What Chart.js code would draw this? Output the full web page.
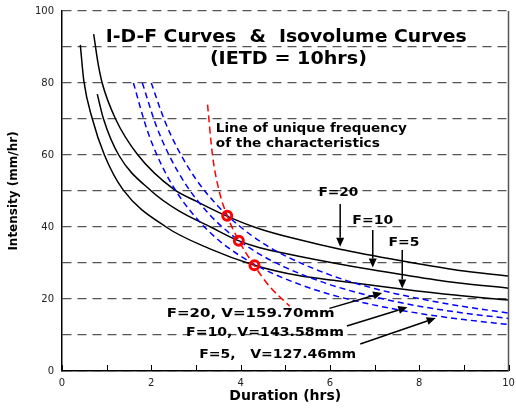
<!DOCTYPE html>
<html>
<head>
<meta charset="utf-8">
<script src="https://cdn.jsdelivr.net/npm/chart.js@4.4.0/dist/chart.umd.min.js"></script>
<style>
  body { margin: 0; background: #fff; }
</style>
</head>
<body>
<canvas id="idfChart" width="516" height="408"></canvas>
<script>
// I-D-F curves (duration hrs / intensity mm/hr)
const durF20 = [0.71, 0.8, 0.9, 1.2, 1.7, 2.5, 3.0, 3.68, 4.4, 5.3, 6.23, 7.6, 8.86, 10];
const intF20 = [93.6, 86, 80, 70, 60, 50.5, 47.2, 43.1, 39.6, 36.5, 33.8, 30.6, 28.0, 26.4];
const durF10 = [0.79, 0.93, 1.27, 2.0, 2.6, 3.33, 3.95, 4.41, 5.3, 6.95, 7.6, 8.8, 10];
const intF10 = [76.9, 70, 60, 50, 44.6, 40, 36.2, 34.3, 31.9, 28.1, 26.8, 24.6, 23.0];
const durF5 = [0.41, 0.49, 0.68, 0.95, 1.37, 2.33, 3.3, 4.31, 5.3, 6.2, 7.6, 8.8, 10];
const intF5 = [90.6, 80.5, 70, 60, 50.3, 40, 34, 29.4, 26.5, 25.0, 22.8, 21.1, 19.7];

// isovolume curves
const durV160 = [2.0, 2.3, 2.6, 3.0, 3.5, 4.0, 4.5, 5, 6, 7, 8, 9, 10];
const intV160 = [80, 69.5, 61.5, 53.3, 45.7, 40, 35.5, 32, 26.7, 22.9, 20.1, 17.9, 16.1];
const durV144 = [1.8, 2.1, 2.4, 2.8, 3.3, 3.8, 4.3, 5, 6, 7, 8, 9, 10];
const intV144 = [80, 68.5, 59.9, 51.3, 43.5, 37.8, 33.4, 28.8, 24, 20.6, 18, 16.1, 14.6];
const durV127 = [1.6, 1.9, 2.2, 2.6, 3.1, 3.6, 4.3, 5, 6, 7, 8, 9, 10];
const intV127 = [80, 67.2, 58, 49.1, 41.2, 35.4, 29.7, 25.6, 21.3, 18.3, 16, 14.3, 12.9];

// line of unique frequency + intersection points
const durUnique = [3.26, 3.37, 3.52, 3.70, 3.96, 4.30, 4.65, 5.1];
const intUnique = [74, 60, 50, 43.1, 36.2, 29.4, 23.5, 18];
const durCross = [3.70, 3.96, 4.31];
const intCross = [43.1, 36.2, 29.4];

const xTickLabels = [0, 2, 4, 6, 8, 10];
const yTickLabels = [0, 20, 40, 60, 80, 100];

const fontFamily = '"DejaVu Sans", Verdana, sans-serif';
Chart.defaults.font.family = fontFamily;

const pts = (xs, ys) => xs.map((x, i) => ({ x: x, y: ys[i] }));

function curve(xs, ys, color, dash) {
  return {
    data: pts(xs, ys),
    showLine: true,
    borderColor: color,
    borderWidth: 1.5,
    borderDash: dash,
    pointRadius: 0,
    cubicInterpolationMode: 'monotone',
    fill: false
  };
}

// text + arrows inside the plot, in data units
const notes = [
  { text: 'I-D-F Curves  &  Isovolume Curves', x: 5.02, y: 92.5, size: 17, width: 361, align: 'center' },
  { text: '(IETD = 10hrs)', x: 5.07, y: 86.5, size: 17, width: 157, align: 'center' },
  { text: 'Line of unique frequency', x: 3.445, y: 67.2, size: 12, width: 191, align: 'left' },
  { text: 'of the characteristics', x: 3.445, y: 63.05, size: 12, width: 164, align: 'left' },
  { text: 'F=20', x: 6.19, y: 49.4, size: 12, width: 40, align: 'center' },
  { text: 'F=10', x: 6.96, y: 41.75, size: 12, width: 41, align: 'center' },
  { text: 'F=5', x: 7.66, y: 35.6, size: 12, width: 31, align: 'center' },
  { text: 'F=20, V=159.70mm', x: 2.345, y: 15.8, size: 12.5, width: 168, align: 'left' },
  { text: 'F=10, V=143.58mm', x: 2.777, y: 10.5, size: 12.5, width: 158, align: 'left' },
  { text: 'F=5,   V=127.46mm', x: 3.073, y: 4.45, size: 12.5, width: 157, align: 'left' }
];
const arrows = [
  [6.23, 46.4, 6.23, 34.5],
  [6.96, 39.2, 6.96, 28.75],
  [7.62, 33.6, 7.62, 22.9],
  [5.99, 17.4, 7.17, 21.7],
  [6.38, 12.5, 7.735, 17.7],
  [6.68, 7.5, 8.37, 14.7]
];

function drawArrow(ctx, x1, y1, x2, y2) {
  const a = Math.atan2(y2 - y1, x2 - x1);
  const len = 9, half = 4;
  const c = Math.cos(a), s = Math.sin(a);
  ctx.beginPath();
  ctx.moveTo(x1, y1);
  ctx.lineTo(x2 - c * len, y2 - s * len);
  ctx.stroke();
  ctx.beginPath();
  ctx.moveTo(x2, y2);
  ctx.lineTo(x2 - c * len + s * half, y2 - s * len - c * half);
  ctx.lineTo(x2 - c * len - s * half, y2 - s * len + c * half);
  ctx.closePath();
  ctx.fill();
}

const extrasPlugin = {
  id: 'extras',
  afterDatasetsDraw(chart) {
    const ctx = chart.ctx;
    const sx = chart.scales.x, sy = chart.scales.y;
    const area = chart.chartArea;

    // right frame line
    ctx.save();
    ctx.strokeStyle = '#555';
    ctx.lineWidth = 1.5;
    ctx.beginPath();
    ctx.moveTo(area.right, area.top);
    ctx.lineTo(area.right, area.bottom);
    ctx.stroke();

    // x tick marks pointing inward
    ctx.strokeStyle = '#000';
    ctx.lineWidth = 1;
    sx.ticks.forEach(t => {
      const x = Math.round(sx.getPixelForValue(t.value)) + 0.5;
      ctx.beginPath();
      ctx.moveTo(x, area.bottom);
      ctx.lineTo(x, area.bottom - 6);
      ctx.stroke();
    });

    // arrows
    ctx.fillStyle = '#000';
    ctx.lineWidth = 1.5;
    arrows.forEach(a => {
      drawArrow(ctx, sx.getPixelForValue(a[0]), sy.getPixelForValue(a[1]),
                sx.getPixelForValue(a[2]), sy.getPixelForValue(a[3]));
    });

    // text
    notes.forEach(n => {
      ctx.save();
      ctx.font = 'bold ' + n.size + 'px ' + fontFamily;
      const m = ctx.measureText(n.text).width;
      const k = n.width / m;
      const px = sx.getPixelForValue(n.x), py = sy.getPixelForValue(n.y);
      const left = n.align === 'center' ? px - n.width / 2 : px;
      ctx.translate(left, py);
      ctx.scale(k, 1);
      ctx.textAlign = 'left';
      ctx.textBaseline = 'middle';
      ctx.fillStyle = '#000';
      ctx.fillText(n.text, 0, 0);
      ctx.restore();
    });
    ctx.restore();
  }
};

const ctx = document.getElementById('idfChart').getContext('2d');

new Chart(ctx, {
  type: 'scatter',
  data: {
    datasets: [
      {
        data: pts(durCross, intCross),
        showLine: false,
        pointRadius: 4.5,
        pointBorderWidth: 3,
        pointBorderColor: '#ff0000',
        pointBackgroundColor: 'rgba(255,255,255,0)'
      },
      curve(durUnique, intUnique, '#ff0000', [7, 4]),
      curve(durV160, intV160, '#0000ff', [6, 4]),
      curve(durV144, intV144, '#0000ff', [6, 4]),
      curve(durV127, intV127, '#0000ff', [6, 4]),
      curve(durF20, intF20, '#000', []),
      curve(durF10, intF10, '#000', []),
      curve(durF5, intF5, '#000', [])
    ]
  },
  options: {
    responsive: false,
    animation: false,
    layout: { padding: { top: 11, right: 5, bottom: 0, left: 0 } },
    plugins: {
      legend: { display: false },
      tooltip: { enabled: false }
    },
    scales: {
      x: {
        type: 'linear',
        min: 0,
        max: 10,
        ticks: {
          stepSize: 1,
          autoSkip: false,
          maxRotation: 0,
          padding: 6,
          color: '#222',
          font: { size: 10 },
          callback: v => xTickLabels.includes(v) ? String(v) : ''
        },
        grid: { drawOnChartArea: false, drawTicks: false },
        border: { color: '#000', width: 1.5 },
        title: {
          display: true,
          text: 'Duration (hrs)',
          color: '#000',
          font: { size: 14, weight: 'bold' },
          padding: { top: 0, bottom: 3.5 }
        },
        afterFit: s => { s.height = 37; s.paddingLeft = 0; s.paddingRight = 0; }
      },
      y: {
        min: 0,
        max: 100,
        ticks: {
          stepSize: 10,
          padding: 8,
          color: '#222',
          font: { size: 10 },
          callback: v => yTickLabels.includes(v) ? String(v) : ''
        },
        grid: { color: '#555', lineWidth: 1.2, drawTicks: false },
        border: { color: '#000', width: 1.5, dash: [9, 6] },
        title: {
          display: true,
          text: 'Intensity (mm/hr)',
          color: '#000',
          font: { size: 12, weight: 'bold' },
          padding: { top: 7, bottom: 0 }
        },
        afterFit: s => { s.width = 62; s.paddingTop = 0; s.paddingBottom = 0; }
      }
    }
  },
  plugins: [extrasPlugin]
});
</script>
</body>
</html>
